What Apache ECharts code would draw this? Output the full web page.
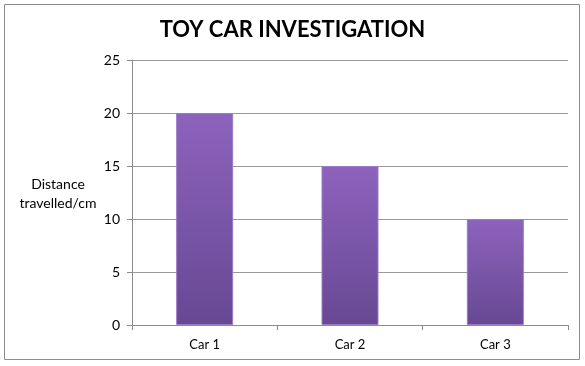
<!DOCTYPE html>
<html><head><meta charset="utf-8">
<script src="https://cdn.jsdelivr.net/npm/echarts@6/dist/echarts.min.js"></script>
<style>html,body{margin:0;padding:0;background:#fff}#c{width:585px;height:366px}</style>
</head><body><div id="c"></div>
<script>
const categories = ['Car 1', 'Car 2', 'Car 3'];
const distances = [20, 15, 10];
const yTicks = { min: 0, max: 25, interval: 5 };
const titleText = 'TOY CAR INVESTIGATION';
const yName = 'Distance\ntravelled/cm';

const chart = echarts.init(document.getElementById('c'), null, { renderer: 'canvas' });
const font = 'Lato, "Open Sans", sans-serif';
chart.setOption({
  animation: false,
  backgroundColor: '#fff',
  title: {
    text: titleText, left: 'center', top: 14,
    textStyle: { fontFamily: font, fontWeight: 'bold', fontSize: 22, color: '#000' }
  },
  graphic: [{
    type: 'rect', shape: { x: 4.5, y: 4.5, width: 575, height: 355 },
    style: { fill: 'none', stroke: '#8c8c8c', lineWidth: 1 }, silent: true
  }, {
    type: 'text', x: 58, y: 175,
    style: { text: yName, font: '14px ' + font, fill: '#000', align: 'center', verticalAlign: 'top', lineHeight: 19 }
  }],
  grid: { left: 132, right: 17, top: 60, bottom: 41, containLabel: false },
  xAxis: {
    type: 'category', data: categories,
    axisLine: { lineStyle: { color: '#8c8c8c' } },
    axisTick: { show: true, alignWithLabel: false, length: 5, lineStyle: { color: '#8c8c8c' } },
    axisLabel: { fontFamily: font, fontSize: 13, color: '#000', margin: 13 }
  },
  yAxis: {
    type: 'value', min: yTicks.min, max: yTicks.max, interval: yTicks.interval,
    axisLine: { show: true, lineStyle: { color: '#8c8c8c' } },
    axisTick: { show: true, length: 5, lineStyle: { color: '#8c8c8c' } },
    splitLine: { lineStyle: { color: '#9a9a9a' } },
    axisLabel: { fontFamily: font, fontSize: 14, color: '#000', margin: 12 }
  },
  series: [{
    type: 'bar', data: distances, barWidth: 57,
    itemStyle: {
      color: new echarts.graphic.LinearGradient(0, 0, 0, 1, [
        { offset: 0, color: '#8d63bd' },
        { offset: 1, color: '#674893' }
      ]),
      borderColor: '#9b7ac8', borderWidth: 1
    }
  }]
});
</script></body></html>
